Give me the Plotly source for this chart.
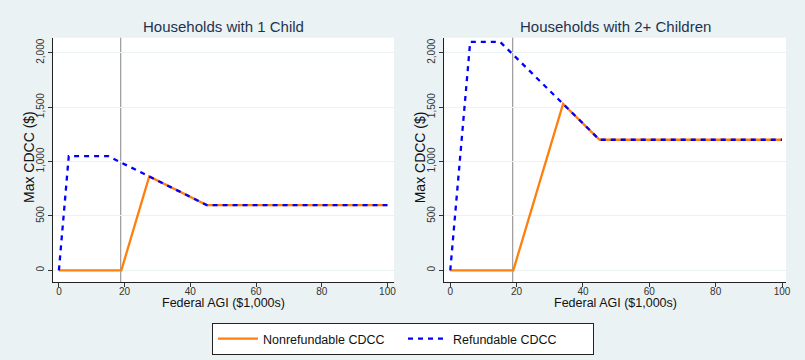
import plotly.graph_objects as go

# Data (AGI in $1,000s, credit in $)
agi_nonref_1 = [0, 19, 27.5, 45, 100]
cdcc_nonref_1 = [0, 0, 862.5, 600, 600]
agi_ref_1 = [0, 3, 15, 45, 100]
cdcc_ref_1 = [0, 1050, 1050, 600, 600]

agi_nonref_2 = [0, 19, 34, 45, 100]
cdcc_nonref_2 = [0, 0, 1530, 1200, 1200]
agi_ref_2 = [0, 6, 15, 45, 100]
cdcc_ref_2 = [0, 2100, 2100, 1200, 1200]

panel_titles = ["Households with 1 Child", "Households with 2+ Children"]
x_title = "Federal AGI ($1,000s)"
y_title = "Max CDCC ($)"
vline_x = 18.8
x_ticks = [0, 20, 40, 60, 80, 100]
y_ticks = [0, 500, 1000, 1500, 2000]
y_tick_text = ["0", "500", "1,000", "1,500", "2,000"]

ORANGE = "#FF7F0E"
BLUE = "#0000FF"
BG = "#EAF2F3"
TITLE_C = "#1E3250"
FONT = "Liberation Sans, Arial"
W, H = 805, 360

fig = go.Figure()

panels = [
    (agi_nonref_1, cdcc_nonref_1, agi_ref_1, cdcc_ref_1, "x", "y"),
    (agi_nonref_2, cdcc_nonref_2, agi_ref_2, cdcc_ref_2, "x2", "y2"),
]
for i, (xn, yn, xr, yr, xa, ya) in enumerate(panels):
    fig.add_trace(go.Scatter(x=xn, y=yn, mode="lines", xaxis=xa, yaxis=ya,
                             line=dict(color=ORANGE, width=2.3),
                             name="Nonrefundable CDCC", showlegend=(i == 0)))
    fig.add_trace(go.Scatter(x=xr, y=yr, mode="lines", xaxis=xa, yaxis=ya,
                             line=dict(color=BLUE, width=2.3, dash="5px,5px"),
                             name="Refundable CDCC", showlegend=(i == 0)))
    fig.add_shape(type="line", x0=vline_x, x1=vline_x, y0=0, y1=1,
                  xref=xa, yref=ya + " domain",
                  line=dict(color="#A0A0A0", width=1.3), layer="below")

xdoms = [[53 / W, 394 / W], [444.3 / W, 786 / W]]
ydom = [1 - 282.3 / H, 1 - 37.7 / H]
xranges = [[-1.8, 102.0], [-1.8, 101.2]]

axis_common_x = dict(
    tickmode="array", tickvals=x_ticks, ticks="outside", ticklen=4,
    tickcolor="#333333", tickwidth=1, showgrid=False, zeroline=False,
    showline=True, linecolor="#222222", linewidth=1.2, automargin=False,
    ticklabelstandoff=-4,
    tickfont=dict(family=FONT, size=10, color="#333333"),
)
axis_common_y = dict(
    tickmode="array", tickvals=y_ticks, ticktext=y_tick_text, ticks="outside",
    ticklen=4, tickcolor="#333333", tickwidth=1, tickangle=-90,
    showgrid=True, gridcolor=BG, gridwidth=1.2, zeroline=False,
    showline=True, linecolor="#222222", linewidth=1.2, automargin=False,
    range=[-110, 2138],
    tickfont=dict(family=FONT, size=10, color="#333333"),
)

fig.update_layout(
    width=W, height=H,
    margin=dict(l=0, r=0, t=0, b=0, autoexpand=False),
    paper_bgcolor=BG, plot_bgcolor="white",
    xaxis=dict(domain=xdoms[0], range=xranges[0], anchor="y", **axis_common_x),
    yaxis=dict(domain=ydom, anchor="x", **axis_common_y),
    xaxis2=dict(domain=xdoms[1], range=xranges[1], anchor="y2", **axis_common_x),
    yaxis2=dict(domain=ydom, anchor="x2", **axis_common_y),
    legend=dict(orientation="h", x=403 / W, xanchor="center", y=1 - 323 / H, yanchor="top",
                bgcolor="white", bordercolor="#222222", borderwidth=1,
                font=dict(family=FONT, size=12.5, color="#111111"),
                itemwidth=40, entrywidth=135, tracegroupgap=0),
    showlegend=True,
)

for xd, t in zip(xdoms, panel_titles):
    xc = (xd[0] + xd[1]) / 2
    fig.add_annotation(text=t, x=xc, y=1 - 26.5 / H,
                       xref="paper", yref="paper", showarrow=False,
                       xanchor="center", yanchor="middle",
                       font=dict(family=FONT, size=15, color=TITLE_C))
    fig.add_annotation(text=x_title, x=xc, y=1 - 303 / H,
                       xref="paper", yref="paper", showarrow=False,
                       xanchor="center", yanchor="middle",
                       font=dict(family=FONT, size=12.5, color="#111111"))
    fig.add_annotation(text=y_title, x=xd[0] - 24 / W, y=1 - 157 / H,
                       xref="paper", yref="paper", showarrow=False, textangle=-90,
                       xanchor="center", yanchor="middle",
                       font=dict(family=FONT, size=14, color="#111111"))

fig.write_html("out.html", post_script="document.body.style.margin='0';",
               config={"displayModeBar": False})
